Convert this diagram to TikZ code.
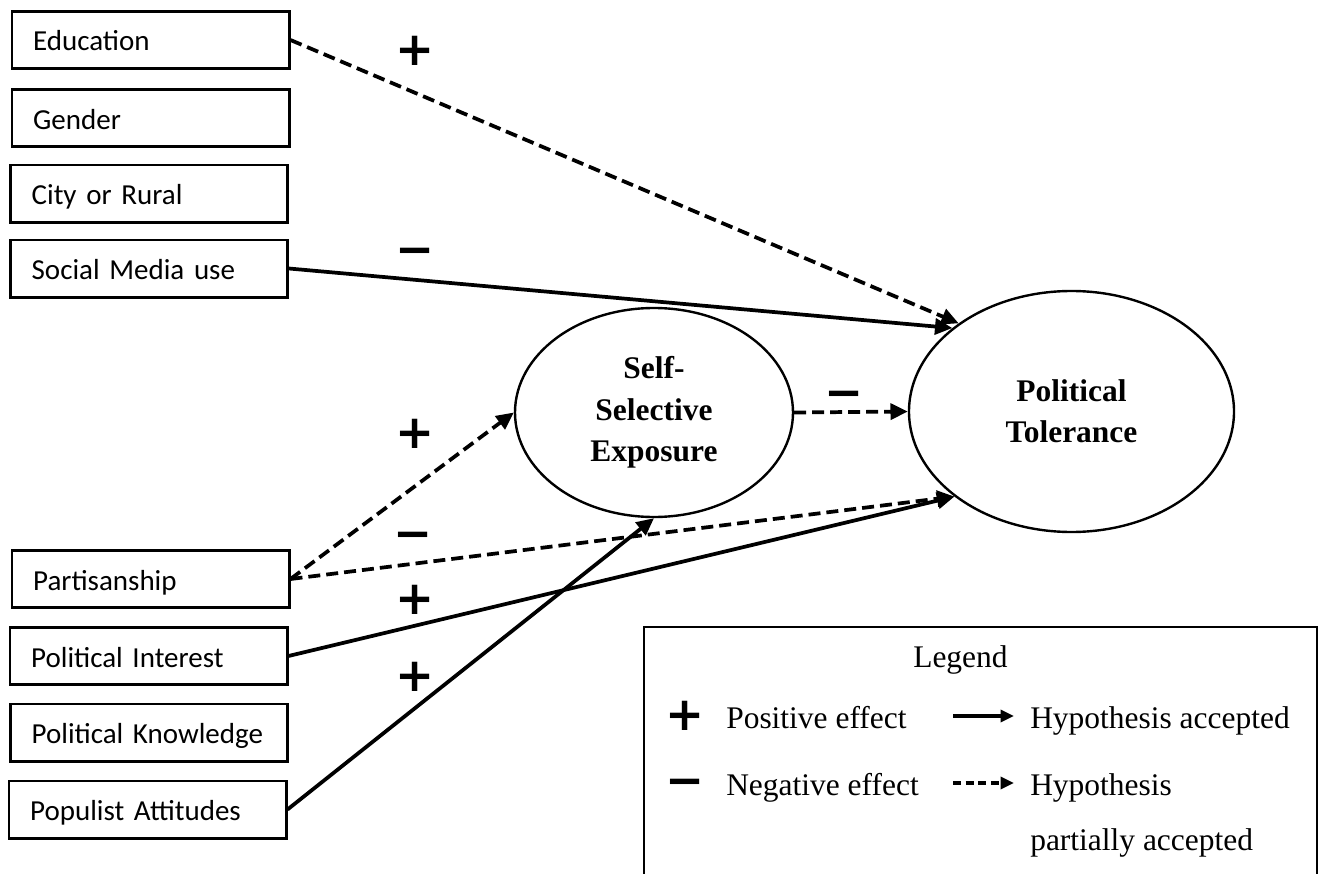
\documentclass[tikz,border=0pt]{standalone}
\usepackage{fontspec}
\setmainfont{Liberation Serif}
\newfontfamily\calfont[WordSpace=0.75]{Carlito}
\newfontfamily\symfont{DejaVu Sans}
\usetikzlibrary{arrows.meta,shapes.geometric}
\begin{document}
\begin{tikzpicture}[x=0.75pt,y=-0.75pt,
  varbox/.style={draw, line width=2pt, rectangle, minimum width=208pt, minimum height=43pt,
    inner xsep=16pt, inner ysep=0pt, text width=176pt, align=left,
    font=\calfont\fontsize{21.75pt}{26pt}\selectfont, text height=16.5pt, text depth=0pt},
  latent/.style={draw, ellipse, line width=1.8pt, inner sep=0pt, align=center,
    font=\bfseries\fontsize{23.6pt}{31.1pt}\selectfont},
  solidarr/.style={line width=2.8pt, -{Triangle[length=13pt,width=12pt]}},
  dasharr/.style={line width=2.8pt, dash pattern=on 9pt off 4.5pt, -{Triangle[length=13pt,width=12pt]}},
  sign/.style={inner sep=0pt, font=\symfont\bfseries\fontsize{35pt}{35pt}\selectfont, text height=22pt, text depth=0pt},
  legtext/.style={anchor=base west, inner sep=0pt, font=\fontsize{23.6pt}{28pt}\selectfont},
  legarr/.style={line width=2.4pt, -{Triangle[length=10pt,width=9pt]}},
  legdash/.style={line width=2.4pt, dash pattern=on 6pt off 3.5pt, -{Triangle[length=10pt,width=9pt]}}
]
\useasboundingbox (0,0) rectangle (1325,874);

% variable boxes
\node[varbox] (edu)  at (150.5,40)  {Education};
\node[varbox] (gen)  at (150.5,118) {Gender};
\node[varbox] (city) at (149,193.5) {City or Rural};
\node[varbox] (soc)  at (149,268.5) {Social Media use};
\node[varbox] (par)  at (150.5,579) {Partisanship};
\node[varbox] (pint) at (148.5,656) {Political Interest};
\node[varbox] (pkn)  at (149,732.5) {Political Knowledge};
\node[varbox] (pop)  at (147.5,809.5) {Populist Attitudes};

% latent variables
\node[latent, minimum width=208.5pt, minimum height=156.75pt] (ss) at (654,412.5) {Self-\\Selective\\Exposure};
\node[latent, minimum width=243.75pt, minimum height=180.75pt] (pt) at (1071.5,411.5) {Political\\Tolerance};

% connectors
\draw[dasharr] (edu.east) -- (pt.142);
\draw[solidarr] (soc.east) -- (pt.145);
\draw[dasharr] (ss.east) -- (pt.west);
\draw[dasharr] (par.east) -- (ss.west);
\draw[dasharr] (par.east) -- (pt.216);
\draw[solidarr] (pint.east) -- (pt.216);
\draw[solidarr] (pop.east) -- (ss.south);

% effect signs
\node[sign] (s1) at (415,51) {+};
\node[sign] (s2) at (415,251) {−};
\node[sign] (s3) at (415,434) {+};
\node[sign] (s4) at (413,535) {−};
\node[sign] (s5) at (415,600) {+};
\node[sign] (s6) at (415,677) {+};
\node[sign] (s7) at (844,394) {−};

% legend
\coordinate (lg1) at (644,874);
\coordinate (lg2) at (644,627);
\coordinate (lg3) at (1317,627);
\coordinate (lg4) at (1317,874);
\draw[line width=2pt] (lg1) -- (lg2) -- (lg3) -- (lg4);
\node[legtext] (lgt) at (913,667) {Legend};
\node[sign] (lgp) at (685,716) {+};
\node[sign] (lgm) at (685,782) {−};
\node[legtext] (lpos) at (726,728) {Positive effect};
\node[legtext] (lneg) at (726,795) {Negative effect};
\coordinate (la1) at (953,716);
\coordinate (la2) at (1014,716);
\coordinate (ld1) at (953,783);
\coordinate (ld2) at (1014,783);
\draw[legarr] (la1) -- (la2);
\draw[legdash] (ld1) -- (ld2);
\node[legtext] (lacc) at (1030,728) {Hypothesis accepted};
\node[legtext] (lpar1) at (1030,795) {Hypothesis};
\node[legtext] (lpar2) at (1030,850) {partially accepted};
\end{tikzpicture}
\end{document}
